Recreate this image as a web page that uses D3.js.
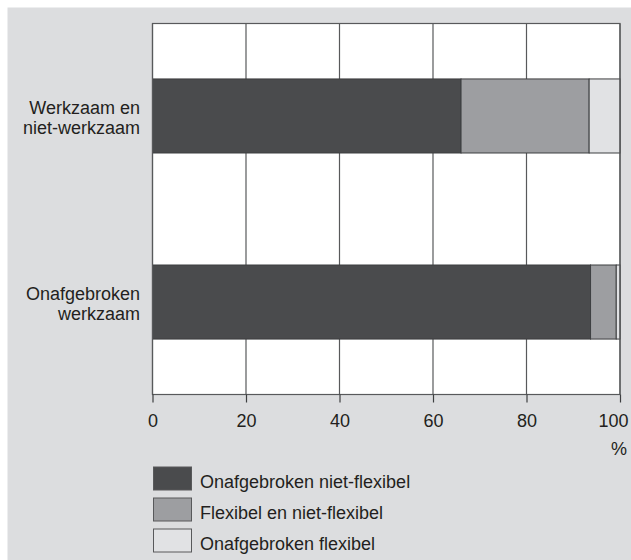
<!DOCTYPE html>
<html>
<head>
<meta charset="utf-8">
<script src="https://cdn.jsdelivr.net/npm/d3@7"></script>
<style>
  html, body { margin: 0; padding: 0; background: #ffffff; }
  svg { display: block; }
  text { font-family: "Liberation Sans", Arial, Helvetica, sans-serif; fill: #231f20; }
</style>
</head>
<body>
<svg id="chart" width="631" height="560"></svg>
<script>
// ---- data ----
const categories = [["Werkzaam en", "niet-werkzaam"], ["Onafgebroken", "werkzaam"]];
const categoryKeys = ["Werkzaam en niet-werkzaam", "Onafgebroken werkzaam"];
const seriesNames = ["Onafgebroken niet-flexibel", "Flexibel en niet-flexibel", "Onafgebroken flexibel"];
const seriesOnafgebrokenNietFlexibel = [66.0, 93.7];
const seriesFlexibelEnNietFlexibel = [27.4, 5.5];
const seriesOnafgebrokenFlexibel = [6.6, 0.8];
const xTicks = [0, 20, 40, 60, 80, 100];
const unitLabel = "%";
const colors = ["#4a4b4d", "#9d9ea1", "#e1e2e4"];

// ---- layout ----
const svg = d3.select("#chart");
const W = 631, H = 560;
const plot = { left: 152.5, right: 620, top: 23.5, bottom: 394.5 };
const FS = 18;

svg.append("rect").attr("x", 7.5).attr("y", 7.5).attr("width", W - 7.5).attr("height", H - 7.5)
  .attr("fill", "#dcdddf");

const x = d3.scaleLinear().domain([0, 100]).range([plot.left, plot.right]);
const y = d3.scaleBand().domain(categoryKeys).range([plot.top, plot.bottom])
  .paddingInner(0.602).paddingOuter(0.298);

// plot background
svg.append("rect").attr("x", plot.left).attr("y", plot.top)
  .attr("width", plot.right - plot.left).attr("height", plot.bottom - plot.top)
  .attr("fill", "#ffffff");

// grid lines
svg.append("g").selectAll("line").data(xTicks).join("line")
  .attr("x1", d => x(d)).attr("x2", d => x(d))
  .attr("y1", plot.top).attr("y2", plot.bottom)
  .attr("stroke", "#58595b").attr("stroke-width", 1.2);

// stacked bars
const rows = categoryKeys.map((k, i) => ({
  key: k,
  [seriesNames[0]]: seriesOnafgebrokenNietFlexibel[i],
  [seriesNames[1]]: seriesFlexibelEnNietFlexibel[i],
  [seriesNames[2]]: seriesOnafgebrokenFlexibel[i]
}));
const stack = d3.stack().keys(seriesNames)(rows);

svg.append("g").selectAll("g").data(stack).join("g")
  .attr("fill", (d, i) => colors[i])
  .selectAll("rect").data(d => d).join("rect")
  .attr("x", d => x(d[0]))
  .attr("y", d => y(d.data.key))
  .attr("width", d => x(d[1]) - x(d[0]))
  .attr("height", y.bandwidth())
  .attr("stroke", "#3d3e40").attr("stroke-width", 1);

// frame
svg.append("rect").attr("x", plot.left).attr("y", plot.top)
  .attr("width", plot.right - plot.left).attr("height", plot.bottom - plot.top)
  .attr("fill", "none").attr("stroke", "#58595b").attr("stroke-width", 1.2);

// x axis
const xAxis = svg.append("g").attr("transform", `translate(0,${plot.bottom})`)
  .call(d3.axisBottom(x).tickValues(xTicks).tickSize(8).tickPadding(12).tickFormat(d3.format("d")));
xAxis.attr("font-family", null).attr("font-size", null);
xAxis.select(".domain").remove();
xAxis.selectAll(".tick line").attr("stroke", "#3d3e40").attr("stroke-width", 1.2);
xAxis.selectAll(".tick text").attr("font-size", FS)
  .style("font-family", '"Liberation Sans", Arial, sans-serif').attr("fill", "#231f20");
xAxis.selectAll(".tick").filter(d => d === 100).select("text")
  .attr("text-anchor", "end").attr("dx", 8);

svg.append("text").attr("x", 627).attr("y", 455).attr("text-anchor", "end")
  .attr("font-size", FS).text(unitLabel);

// category labels
categoryKeys.forEach((k, i) => {
  const cy = y(k) + y.bandwidth() / 2;
  const t = svg.append("text").attr("text-anchor", "end").attr("font-size", FS);
  categories[i].forEach((line, j) => {
    t.append("tspan").attr("x", 140).attr("y", cy - 2 + j * 20).text(line);
  });
});

// legend
const legend = svg.append("g");
seriesNames.forEach((name, i) => {
  const ly = 467 + i * 31;
  legend.append("rect").attr("x", 153.5).attr("y", ly).attr("width", 38).attr("height", 23)
    .attr("fill", colors[i]).attr("stroke", "#58595b").attr("stroke-width", 1);
  legend.append("text").attr("x", 200).attr("y", ly + 21).attr("font-size", FS).text(name);
});
</script>
</body>
</html>
